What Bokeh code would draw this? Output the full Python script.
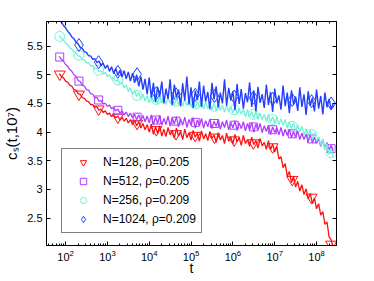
import numpy as np
from bokeh.plotting import figure
from bokeh.models import (LogAxis, LinearAxis, Range1d, Legend, LegendItem,
                          FixedTicker, LogTicker)
from bokeh.embed import file_html
from bokeh.resources import INLINE

# time grid (log10 t)
LOGT = np.round(np.arange(185, 841, 5) / 100.0, 2)
T = 10.0 ** LOGT

RED = [5.02, 4.97, 4.95, 4.89, 4.87, 4.82, 4.80, 4.74, 4.73, 4.67,
       4.66, 4.60, 4.59, 4.54, 4.53, 4.48, 4.48, 4.43, 4.44, 4.38,
       4.40, 4.34, 4.37, 4.31, 4.33, 4.27, 4.30, 4.25, 4.28, 4.21,
       4.26, 4.19, 4.24, 4.16, 4.22, 4.13, 4.20, 4.11, 4.18, 4.07,
       4.15, 4.04, 4.13, 4.00, 4.14, 3.96, 4.09, 3.98, 4.11, 3.93,
       4.05, 3.92, 4.08, 3.95, 4.03, 3.89, 4.07, 3.93, 4.01, 3.87,
       4.05, 3.90, 3.99, 3.86, 4.03, 3.91, 3.98, 3.84, 4.02, 3.88,
       3.97, 3.85, 4.01, 3.89, 3.95, 3.82, 3.99, 3.86, 3.94, 3.80,
       3.98, 3.84, 3.92, 3.79, 3.96, 3.83, 3.90, 3.77, 3.94, 3.80,
       3.87, 3.75, 3.91, 3.78, 3.85, 3.72, 3.89, 3.76, 3.82, 3.70,
       3.85, 3.69, 3.79, 3.65, 3.75, 3.53, 3.57, 3.38, 3.45, 3.23,
       3.31, 3.12, 3.22, 3.04, 3.14, 2.97, 3.08, 2.91, 3.01, 2.83,
       2.93, 2.75, 2.85, 2.66, 2.75, 2.55, 2.61, 2.39, 2.43, 2.17,
       2.12, 1.98]

PURPLE = [5.32, 5.27, 5.24, 5.18, 5.15, 5.09, 5.06, 5.00, 4.97, 4.90,
          4.88, 4.82, 4.80, 4.74, 4.73, 4.67, 4.66, 4.60, 4.60, 4.54,
          4.55, 4.49, 4.50, 4.45, 4.47, 4.41, 4.43, 4.37, 4.40, 4.33,
          4.37, 4.30, 4.35, 4.27, 4.33, 4.25, 4.31, 4.22, 4.30, 4.20,
          4.29, 4.18, 4.28, 4.16, 4.30, 4.13, 4.26, 4.15, 4.29, 4.12,
          4.24, 4.13, 4.28, 4.10, 4.25, 4.14, 4.27, 4.09, 4.23, 4.12,
          4.26, 4.08, 4.22, 4.12, 4.25, 4.07, 4.21, 4.11, 4.24, 4.07,
          4.20, 4.09, 4.23, 4.06, 4.19, 4.10, 4.22, 4.05, 4.18, 4.08,
          4.21, 4.04, 4.17, 4.07, 4.20, 4.03, 4.16, 4.06, 4.18, 4.02,
          4.15, 4.04, 4.17, 4.00, 4.14, 4.03, 4.15, 3.99, 4.11, 4.01,
          4.12, 3.96, 4.09, 3.99, 4.08, 3.95, 4.08, 3.93, 4.05, 3.94,
          4.05, 3.90, 4.01, 3.91, 4.02, 3.87, 3.98, 3.87, 3.96, 3.83,
          3.96, 3.81, 3.91, 3.80, 3.89, 3.75, 3.87, 3.71, 3.82, 3.69,
          3.77, 3.66]

CYAN = [5.68, 5.63, 5.61, 5.55, 5.53, 5.47, 5.45, 5.40, 5.38, 5.33,
        5.32, 5.27, 5.26, 5.21, 5.21, 5.15, 5.16, 5.10, 5.11, 5.05,
        5.07, 5.01, 5.04, 4.97, 5.00, 4.93, 4.96, 4.88, 4.92, 4.84,
        4.87, 4.77, 4.82, 4.71, 4.77, 4.66, 4.72, 4.62, 4.69, 4.57,
        4.66, 4.54, 4.64, 4.51, 4.63, 4.53, 4.61, 4.49, 4.63, 4.51,
        4.60, 4.48, 4.61, 4.50, 4.58, 4.47, 4.60, 4.48, 4.57, 4.45,
        4.58, 4.46, 4.55, 4.44, 4.56, 4.42, 4.54, 4.43, 4.52, 4.40,
        4.53, 4.41, 4.50, 4.39, 4.51, 4.37, 4.49, 4.38, 4.47, 4.35,
        4.47, 4.36, 4.44, 4.33, 4.45, 4.32, 4.41, 4.31, 4.40, 4.27,
        4.39, 4.27, 4.36, 4.24, 4.36, 4.22, 4.33, 4.22, 4.31, 4.19,
        4.31, 4.17, 4.27, 4.15, 4.27, 4.13, 4.23, 4.12, 4.22, 4.07,
        4.18, 4.06, 4.16, 4.02, 4.12, 4.01, 4.10, 3.95, 4.06, 3.94,
        4.03, 3.87, 3.99, 3.84, 3.92, 3.77, 3.88, 3.69, 3.80, 3.61,
        3.71, 3.56]

BLUE = [5.97, 5.92, 5.86, 5.82, 5.76, 5.72, 5.66, 5.63, 5.57, 5.54,
        5.48, 5.46, 5.40, 5.39, 5.33, 5.33, 5.27, 5.28, 5.21, 5.24,
        5.16, 5.20, 5.11, 5.17, 5.06, 5.14, 5.02, 5.11, 4.99, 5.08,
        4.96, 5.07, 4.93, 5.05, 4.89, 5.03, 4.86, 5.00, 4.80, 4.97,
        4.74, 4.93, 4.66, 4.95, 4.60, 4.86, 4.52, 4.79, 4.62, 4.88,
        4.50, 4.76, 4.58, 4.92, 4.47, 4.83, 4.60, 4.74, 4.45, 4.85,
        4.55, 4.97, 4.48, 4.78, 4.42, 4.72, 4.56, 4.88, 4.44, 4.81,
        4.53, 4.70, 4.40, 4.86, 4.57, 4.80, 4.43, 4.69, 4.50, 4.92,
        4.46, 4.77, 4.55, 4.71, 4.38, 4.84, 4.49, 4.75, 4.41, 4.68,
        4.52, 4.87, 4.44, 4.73, 4.36, 4.79, 4.51, 4.66, 4.42, 4.83,
        4.47, 4.70, 4.35, 4.76, 4.50, 4.64, 4.39, 4.81, 4.45, 4.69,
        4.33, 4.73, 4.48, 4.62, 4.37, 4.78, 4.44, 4.66, 4.30, 4.71,
        4.46, 4.60, 4.36, 4.74, 4.41, 4.63, 4.31, 4.69, 4.43, 4.58,
        4.40, 4.50]

# marker positions
MARK_LOGT = [1.86, 2.32, 2.79, 3.25, 3.71, 4.17, 4.64, 5.10, 5.56, 6.03,
             6.49, 6.95, 7.42, 7.88, 8.35]
MARK_T = [10.0 ** e for e in MARK_LOGT]
RED_M = [5.01, 4.66, 4.40, 4.26, 4.15, 4.04, 3.97, 3.94, 3.91, 3.86, 3.81, 3.74, 3.17, 2.86, 2.04]
PUR_M = [5.31, 4.89, 4.56, 4.38, 4.26, 4.21, 4.19, 4.17, 4.15, 4.12, 4.09, 4.04, 3.97, 3.88, 3.71]
CYA_M = [5.67, 5.34, 5.08, 4.91, 4.64, 4.57, 4.54, 4.49, 4.45, 4.39, 4.31, 4.22, 4.10, 3.96, 3.64]
BLU_M = [6.5, 5.52, 5.22, 5.05, 5.01, 4.68, 4.66, 4.65, 4.63, 4.62, 4.60, 4.58, 4.56, 4.54, 4.50]

LABELS = ["N=128, \u03c1=0.205", "N=512, \u03c1=0.205", "N=256, \u03c1=0.209", "N=1024, \u03c1=0.209"]
C_RED, C_PUR, C_CYA, C_BLU = "#ff1010", "#b03cff", "#6ff2d8", "#2440ff"

FONT = "Liberation Sans"
YTICKS = [2.5, 3, 3.5, 4, 4.5, 5, 5.5]

p = figure(x_axis_type="log", x_range=Range1d(35, 3.0e8), y_range=Range1d(2.02, 5.93),
           frame_width=290, frame_height=224, output_backend="svg", toolbar_location=None,
           min_border_left=40, min_border_right=28, min_border_top=21, min_border_bottom=20,
           background_fill_color="white", border_fill_color="white")
p.grid.visible = False
p.outline_line_color = "black"
p.outline_line_width = 1

# markers (under the lines)
r_red_m = p.scatter(MARK_T, RED_M, marker="inverted_triangle", size=11, fill_color=None,
                    line_color=C_RED, line_width=1)
r_pur_m = p.scatter(MARK_T, PUR_M, marker="square", size=8, fill_color=None,
                    line_color=C_PUR, line_width=1)
r_cya_m = p.scatter(MARK_T, CYA_M, marker="circle", size=10, fill_color=None,
                    line_color=C_CYA, line_width=1)
r_blu_m = p.scatter(MARK_T, BLU_M, marker="diamond", size=13, fill_color=None,
                    line_color=C_BLU, line_width=1)

p.line(T, PURPLE, line_color=C_PUR, line_width=1.3)
p.line(T, RED, line_color=C_RED, line_width=1.3)
p.line(T, CYAN, line_color=C_CYA, line_width=1.3)
p.line(T, BLUE, line_color=C_BLU, line_width=1.4)

# axes styling
xa = p.xaxis[0]
ya = p.yaxis[0]
ya.ticker = FixedTicker(ticks=YTICKS)
ya.major_label_overrides = {3: "3", 4: "4", 5: "5"}
top = LogAxis(ticker=LogTicker(), major_label_text_font_size="1px",
              major_label_text_color=None, major_label_standoff=0)
right = LinearAxis(ticker=FixedTicker(ticks=YTICKS), major_label_text_font_size="1px",
                   major_label_text_color=None, major_label_standoff=0)
p.add_layout(top, "above")
p.add_layout(right, "right")
for ax in (xa, ya, top, right):
    ax.major_tick_in = 4
    ax.major_tick_out = 0
    ax.minor_tick_in = 2
    ax.minor_tick_out = 0
    ax.axis_line_color = "black"
    ax.major_tick_line_color = "black"
    ax.minor_tick_line_color = "black"
    ax.major_label_text_font = FONT
for ax in (ya, right):
    ax.minor_tick_line_color = None
for ax in (xa, ya):
    ax.major_label_text_color = "black"
    ax.major_label_text_font_size = "11px"
    ax.axis_label_text_font = FONT
    ax.axis_label_text_font_style = "normal"
    ax.axis_label_text_color = "black"
xa.axis_label_text_font_size = "14px"
xa.major_label_standoff = 4
xa.axis_label = "t"
xa.axis_label_standoff = -4
ya.axis_label_text_font_size = "15px"
ya.major_label_standoff = 4
ya.axis_label = "c\u209b(t,10\u2077)"
ya.axis_label_standoff = 4

legend = Legend(items=[LegendItem(label=LABELS[0], renderers=[r_red_m]),
                       LegendItem(label=LABELS[1], renderers=[r_pur_m]),
                       LegendItem(label=LABELS[2], renderers=[r_cya_m]),
                       LegendItem(label=LABELS[3], renderers=[r_blu_m])],
                location=(15, 12), border_line_color="black", border_line_width=1,
                background_fill_color="white", background_fill_alpha=1.0,
                label_text_font=FONT, label_text_font_size="12px", label_text_color="black",
                padding=5, spacing=3, glyph_width=32, glyph_height=16, label_height=16,
                label_standoff=4, margin=0)
p.add_layout(legend)

open("out.html", "w").write(file_html(p, INLINE))
